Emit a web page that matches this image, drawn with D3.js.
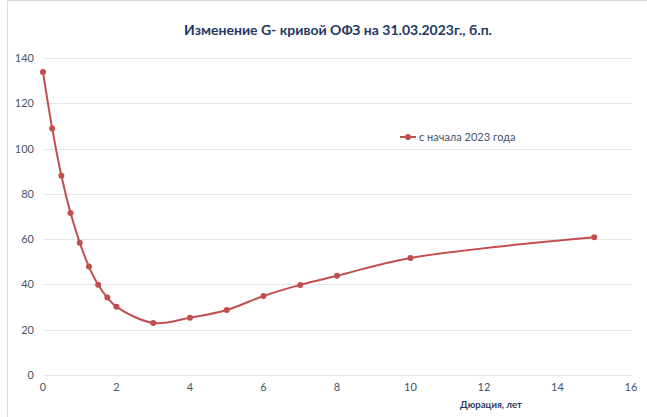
<!DOCTYPE html>
<html>
<head>
<meta charset="utf-8">
<script src="https://cdn.jsdelivr.net/npm/d3@7"></script>
<style>
  body { margin: 0; background: #fff; }
  text { font-family: Lato, "Open Sans", sans-serif; }
</style>
</head>
<body>
<script>
// duration, years
var durations = [0, 0.25, 0.5, 0.75, 1, 1.25, 1.5, 1.75, 2, 3, 4, 5, 6, 7, 8, 10, 15]
// change since start of 2023, b.p.
var changes = [133.8, 108.9, 88.0, 71.5, 58.4, 47.9, 39.9, 34.2, 30.1, 23.0, 25.3, 28.7, 34.9, 39.8, 43.8, 51.7, 60.8]
var xTicks = [0, 2, 4, 6, 8, 10, 12, 14, 16]
var yTicks = [0, 20, 40, 60, 80, 100, 120, 140]
var seriesName = "с начала 2023 года"

var width = 647, height = 417
var red = "#c0504d", tickColor = "#44546a", gridColor = "#e6e6e6"

var svg = d3.select("body").append("svg")
    .attr("width", width)
    .attr("height", height)

// chart frame
svg.append("path")
    .attr("d", "M7.5," + height + "V0.5H" + width)
    .attr("fill", "none")
    .attr("stroke", "#d9d9d9")

var x = d3.scaleLinear().domain([0, 16]).range([43, 631])
var y = d3.scaleLinear().domain([0, 140]).range([375, 58])

// gridlines
svg.selectAll(".grid")
    .data(yTicks)
    .enter()
    .append("line")
    .attr("class", "grid")
    .attr("x1", x(0))
    .attr("x2", x(16))
    .attr("y1", function(d) { return Math.round(y(d)) + 0.5 })
    .attr("y2", function(d) { return Math.round(y(d)) + 0.5 })
    .attr("stroke", gridColor)

// y labels
svg.selectAll(".ylab")
    .data(yTicks)
    .enter()
    .append("text")
    .attr("class", "ylab")
    .attr("x", 34)
    .attr("y", function(d) { return y(d) + 4 })
    .attr("text-anchor", "end")
    .attr("font-size", 11)
    .attr("fill", tickColor)
    .text(function(d) { return d })

// x labels
svg.selectAll(".xlab")
    .data(xTicks)
    .enter()
    .append("text")
    .attr("class", "xlab")
    .attr("x", function(d) { return x(d) })
    .attr("y", 391)
    .attr("text-anchor", "middle")
    .attr("font-size", 11)
    .attr("fill", tickColor)
    .text(function(d) { return d })

// title
svg.append("text")
    .attr("x", 338)
    .attr("y", 35)
    .attr("text-anchor", "middle")
    .attr("font-size", 14)
    .attr("font-weight", "bold")
    .attr("fill", "#1f3864")
    .text("Изменение G- кривой ОФЗ на 31.03.2023г., б.п.")

// axis title
svg.append("text")
    .attr("x", 491)
    .attr("y", 408)
    .attr("text-anchor", "middle")
    .attr("font-size", 9.5)
    .attr("font-weight", "bold")
    .attr("fill", "#1f3864")
    .text("Дюрация, лет")

var points = durations.map(function(d, i) { return [d, changes[i]] })

var line = d3.line()
    .x(function(d) { return x(d[0]) })
    .y(function(d) { return y(d[1]) })
    .curve(d3.curveCatmullRom.alpha(0.5))

svg.append("path")
    .datum(points)
    .attr("d", line)
    .attr("fill", "none")
    .attr("stroke", red)
    .attr("stroke-width", 2)

svg.selectAll(".dot")
    .data(points)
    .enter()
    .append("circle")
    .attr("class", "dot")
    .attr("cx", function(d) { return x(d[0]) })
    .attr("cy", function(d) { return y(d[1]) })
    .attr("r", 3)
    .attr("fill", red)

// legend
var legend = svg.append("g").attr("class", "legend")
legend.append("line")
    .attr("x1", 400).attr("x2", 416)
    .attr("y1", 137).attr("y2", 137)
    .attr("stroke", red)
    .attr("stroke-width", 2)
legend.append("circle")
    .attr("cx", 408).attr("cy", 137).attr("r", 3)
    .attr("fill", red)
legend.append("text")
    .attr("x", 419)
    .attr("y", 141)
    .attr("font-size", 11)
    .attr("fill", tickColor)
    .text(seriesName)
</script>
</body>
</html>
